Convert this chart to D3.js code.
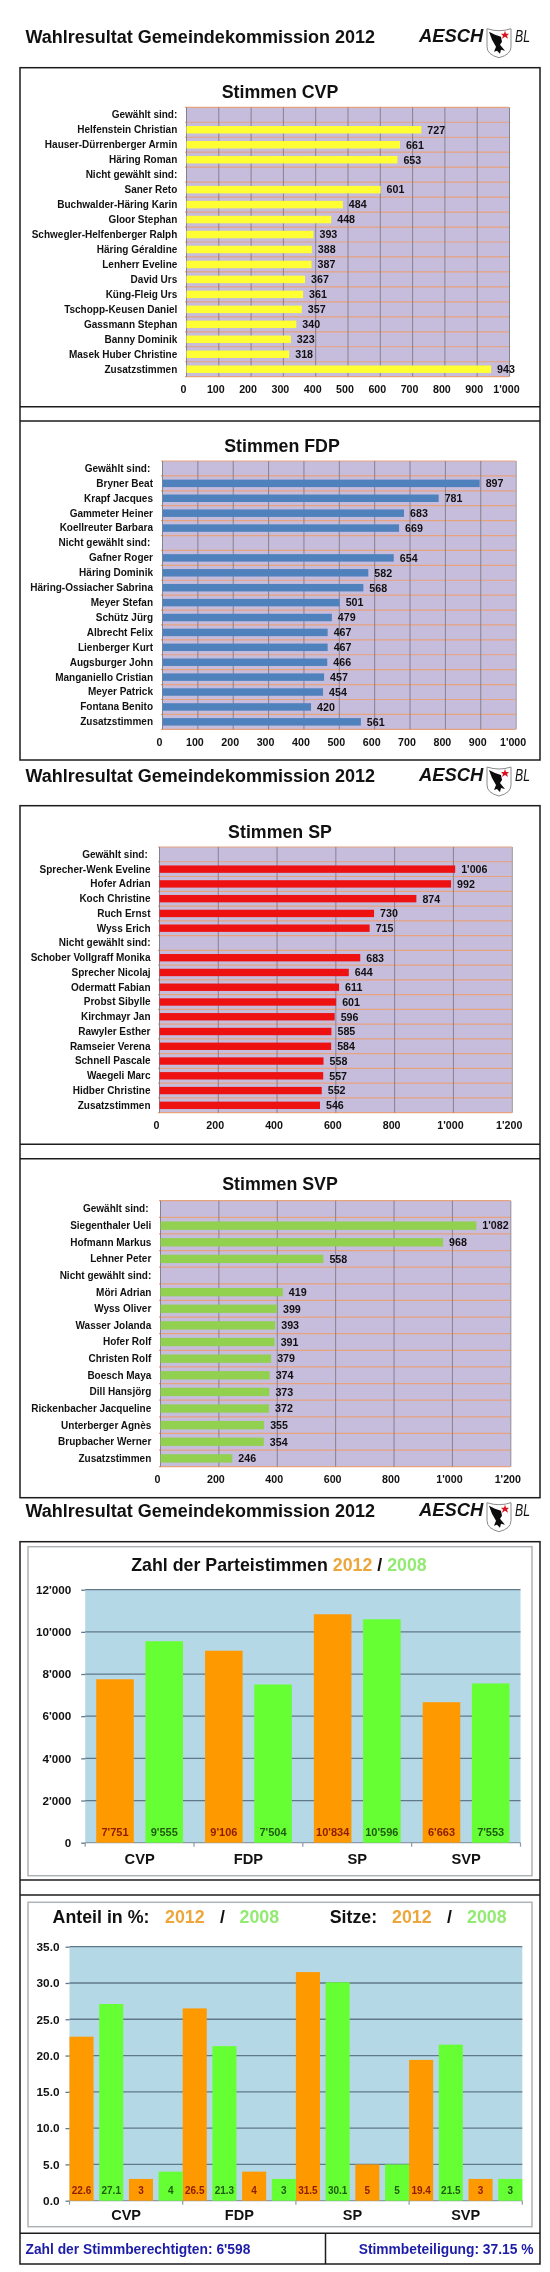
<!DOCTYPE html>
<html><head><meta charset="utf-8">
<script src="https://cdnjs.cloudflare.com/ajax/libs/d3/7.8.5/d3.min.js"></script>
<style>html,body{margin:0;padding:0;background:#fff}svg{display:block;filter:blur(.35px)}text{font-family:"Liberation Sans",Arial,sans-serif;font-weight:bold;fill:#111}</style>
</head><body><svg id="c" width="550" height="2272"></svg>
<script>
const cvpNames=["Gewählt sind:","Helfenstein Christian","Hauser-Dürrenberger Armin","Häring Roman","Nicht gewählt sind:","Saner Reto","Buchwalder-Häring Karin","Gloor Stephan","Schwegler-Helfenberger Ralph","Häring Géraldine","Lenherr Eveline","David Urs","Küng-Fleig Urs","Tschopp-Keusen Daniel","Gassmann Stephan","Banny Dominik","Masek Huber Christine","Zusatzstimmen"];
const cvpVotes=[null,727,661,653,null,601,484,448,393,388,387,367,361,357,340,323,318,943];
const fdpNames=["Gewählt sind:\u00a0","Bryner Beat","Krapf Jacques","Gammeter Heiner","Koellreuter Barbara","Nicht gewählt sind:\u00a0","Gafner Roger","Häring Dominik","Häring-Ossiacher Sabrina","Meyer Stefan","Schütz Jürg","Albrecht Felix","Lienberger Kurt","Augsburger John","Manganiello Cristian","Meyer Patrick","Fontana Benito","Zusatzstimmen"];
const fdpVotes=[null,897,781,683,669,null,654,582,568,501,479,467,467,466,457,454,420,561];
const spNames=["Gewählt sind:\u00a0","Sprecher-Wenk Eveline","Hofer Adrian","Koch Christine","Ruch Ernst","Wyss Erich","Nicht gewählt sind:","Schober Vollgraff Monika","Sprecher Nicolaj","Odermatt Fabian","Probst Sibylle","Kirchmayr Jan","Rawyler Esther","Ramseier Verena","Schnell Pascale","Waegeli Marc","Hidber Christine","Zusatzstimmen"];
const spVotes=[null,1006,992,874,730,715,null,683,644,611,601,596,585,584,558,557,552,546];
const svpNames=["Gewählt sind:\u00a0","Siegenthaler Ueli","Hofmann Markus","Lehner Peter","Nicht gewählt sind:","Möri Adrian","Wyss Oliver","Wasser Jolanda","Hofer Rolf","Christen Rolf","Boesch Maya","Dill Hansjörg","Rickenbacher Jacqueline","Unterberger Agnès","Brupbacher Werner","Zusatzstimmen"];
const svpVotes=[null,1082,968,558,null,419,399,393,391,379,374,373,372,355,354,246];
const ticks1000=[0,100,200,300,400,500,600,700,800,900,1000];
const ticks1200=[0,200,400,600,800,1000,1200];
const parties=["CVP","FDP","SP","SVP"];
const votes2012=[7751,9106,10834,6663];
const votes2008=[9555,7504,10596,7553];
const voteTicks=[0,2000,4000,6000,8000,10000,12000];
const share2012=[22.6,26.5,31.5,19.4];
const share2008=[27.1,21.3,30.1,21.5];
const seats2012=[3,4,5,3];
const seats2008=[4,3,5,3];
const shareTicks=[0,5,10,15,20,25,30,35];
const headerText="Wahlresultat Gemeindekommission 2012";
const eligibleText="Zahl der Stimmberechtigten: 6'598";
const turnoutText="Stimmbeteiligung: 37.15 %";

const svg=d3.select("#c");
const loc=d3.formatLocale({decimal:".",thousands:"'",grouping:[3],currency:["",""]});
const fmt=loc.format(","), fmt1=d3.format(".1f");
const ORANGE="#ff9900",GREEN="#66ff33",TORANGE="#eda63c",TGREEN="#93ea72";

function line(x1,y1,x2,y2,c,w){svg.append("line").attr("x1",x1).attr("y1",y1).attr("x2",x2).attr("y2",y2).attr("stroke",c).attr("stroke-width",w);}
function frame(top,bottom,cuts){
  svg.append("rect").attr("x",20).attr("y",top).attr("width",520).attr("height",bottom-top).attr("fill","none").attr("stroke","#1c1c1c").attr("stroke-width",1.5);
  cuts.forEach(y=>line(20,y,540,y,"#1c1c1c",1.5));
}
function header(cy){
  const g=svg.append("g").attr("transform",`translate(0,${cy})`);
  g.append("text").attr("x",25.5).attr("y",6.5).attr("font-size",18).text(headerText);
  g.append("text").attr("x",419).attr("y",5.5).attr("font-size",18.4).attr("font-style","italic").attr("font-weight","900").text("AESCH");
  g.append("path").attr("d","M487,-8 Q499,-4 511,-8 L511,10 Q511,18 499,21 Q487,18 487,10 Z").attr("fill","#fff").attr("stroke","#8a8a8a").attr("stroke-width",1);
  g.append("path").attr("d","M489,-5 L495,-2 L501,0 L502,5 L500,8 L505,14 L501,13 L500,17 L497,14 L494,15 L496,10 L492,3 Z").attr("fill","#0c0c0c");
  g.append("path").attr("d","M505,-6 L506,-3 L509,-3 L507,-1 L508,2 L505,0 L502,2 L503,-1 L501,-3 L504,-3 Z").attr("fill","#d8121e");
  g.append("text").attr("x",515).attr("y",5.5).attr("font-size",17).attr("font-style","italic").style("font-weight","normal").attr("textLength",15).attr("lengthAdjust","spacingAndGlyphs").text("BL");
}
function hbar(o){
  const g=svg.append("g");
  const x=d3.scaleLinear().domain(o.domain).range([o.left,o.right]);
  const y=d3.scaleBand().domain(o.names.map((_,i)=>i)).range([o.top,o.bottom]).paddingInner(0.5).paddingOuter(0.25);
  svg.append("text").attr("x",o.titleX).attr("y",o.titleY).attr("text-anchor","middle").attr("font-size",17.8).text(o.title);
  g.append("rect").attr("x",o.left).attr("y",o.top).attr("width",o.right-o.left).attr("height",o.bottom-o.top).attr("fill","#c6bcdc");
  const step=y.step();
  g.selectAll(".sep").data(d3.range(o.names.length+1)).join("line")
    .attr("x1",o.left-1).attr("x2",o.right)
    .attr("y1",i=>o.top+i*step).attr("y2",i=>o.top+i*step)
    .attr("stroke","#e8a27c").attr("stroke-width",1.2);
  const ax=g.append("g").attr("transform",`translate(0,${o.bottom})`)
    .call(d3.axisBottom(x).tickValues(o.ticks).tickFormat(fmt).tickSize(-(o.bottom-o.top)).tickPadding(6));
  ax.select(".domain").remove();
  ax.selectAll("line").attr("stroke","#85828f").attr("stroke-width",1);
  ax.selectAll("text").attr("font-size",10.7).attr("dx",-3).attr("y",9);
  const data=o.votes.map((v,i)=>({v,i})).filter(d=>d.v!==null);
  g.selectAll(".bar").data(data).join("rect").attr("x",o.left+.5).attr("y",d=>y(d.i)).attr("width",d=>x(d.v)-o.left).attr("height",y.bandwidth()).attr("fill",o.color);
  g.selectAll(".val").data(data).join("text").attr("x",d=>x(d.v)+6.5).attr("y",d=>y(d.i)+y.bandwidth()/2).attr("dy","0.36em").attr("font-size",10.7).text(d=>fmt(d.v));
  g.selectAll(".nm").data(o.names).join("text").attr("x",o.labelX).attr("y",(_,i)=>y(i)+y.bandwidth()/2).attr("dy","0.34em").attr("text-anchor","end").attr("font-size",10).style("white-space","pre").text(d=>d);
}
function box(t,b){svg.append("rect").attr("x",28).attr("y",t).attr("width",504).attr("height",b-t).attr("fill","#fff").attr("stroke","#aeb4b6").attr("stroke-width",1.5);}
function vaxes(g,x0,y,o){
  const domainRange=y.range();
  g.append("rect").attr("x",o.left).attr("y",domainRange[1]).attr("width",o.right-o.left).attr("height",domainRange[0]-domainRange[1]).attr("fill","#b4d8e5");
  const ay=g.append("g").attr("transform",`translate(${o.left},0)`)
    .call(d3.axisLeft(y).tickValues(o.ticks).tickFormat(o.fmt).tickSize(4).tickPadding(o.pad));
  ay.select(".domain").remove();
  ay.selectAll("line").attr("stroke","#60788a").attr("stroke-width",1.3);
  ay.selectAll("text").attr("font-size",o.tick);
  g.selectAll(".grid").data(o.ticks).join("line").attr("x1",o.left).attr("x2",o.right).attr("y1",d=>y(d)).attr("y2",d=>y(d)).attr("stroke",d=>d===0?"#8a9aa6":"#60788a").attr("stroke-width",1.3);
  const ax=g.append("g").attr("transform",`translate(0,${domainRange[0]})`)
    .call(d3.axisBottom(x0).tickSize(0).tickPadding(o.catPad));
  ax.select(".domain").remove();
  ax.selectAll("text").attr("font-size",o.catSize);
  g.selectAll(".tk").data(d3.range(parties.length+1)).join("line").attr("x1",i=>o.left+i*x0.step()).attr("x2",i=>o.left+i*x0.step()).attr("y1",domainRange[0]).attr("y2",domainRange[0]+4).attr("stroke","#8a9aa6").attr("stroke-width",1.2);
}

header(36.7);header(775);header(1510.7);
frame(67.7,760,[406.7,421]);
frame(805.7,1497.7,[1144.3,1158.7]);
frame(1541.7,2264,[1880,1895,2233.3]);
line(325.5,2233.3,325.5,2264,"#1c1c1c",1.5);

hbar({title:"Stimmen CVP",titleX:280,titleY:98.3,names:cvpNames,votes:cvpVotes,color:"#ffff33",left:186,right:509,top:107.3,bottom:376.7,labelX:177.3,domain:[0,1000],ticks:ticks1000});
hbar({title:"Stimmen FDP",titleX:282,titleY:451.5,names:fdpNames,votes:fdpVotes,color:"#4f81bd",left:162,right:515.6,top:461,bottom:729.3,labelX:153,domain:[0,1000],ticks:ticks1000});
hbar({title:"Stimmen SP",titleX:280,titleY:838,names:spNames,votes:spVotes,color:"#ee1111",left:159,right:511.7,top:847,bottom:1112.7,labelX:150.5,domain:[0,1200],ticks:ticks1200});
hbar({title:"Stimmen SVP",titleX:280,titleY:1190.3,names:svpNames,votes:svpVotes,color:"#92d050",left:160,right:510.3,top:1200.7,bottom:1466.7,labelX:151.3,domain:[0,1200],ticks:ticks1200});

box(1546.7,1875.7);
{
  const t=svg.append("text").attr("x",279).attr("y",1571.3).attr("text-anchor","middle").attr("font-size",17.8);
  t.append("tspan").text("Zahl der Parteistimmen ");
  t.append("tspan").style("fill",TORANGE).text("2012");
  t.append("tspan").text(" / ");
  t.append("tspan").style("fill",TGREEN).text("2008");
  const o={left:85.2,right:520.5,ticks:voteTicks,fmt:fmt,pad:10,tick:11.7,catSize:14.7,catPad:11};
  const g=svg.append("g");
  const x0=d3.scaleBand().domain(parties).range([o.left,o.right]);
  const x1=d3.scaleBand().domain(["a","b"]).range([0,x0.bandwidth()]).paddingInner(0.236).paddingOuter(0.224);
  const y=d3.scaleLinear().domain([0,12000]).range([1842.7,1589.7]);
  vaxes(g,x0,y,o);
  [["a",votes2012,ORANGE,"#8a1c00"],["b",votes2008,GREEN,"#1f5a10"]].forEach(([k,vals,col,tc])=>{
    g.selectAll(".b"+k).data(vals).join("rect").attr("x",(_,i)=>x0(parties[i])+x1(k)).attr("y",d=>y(d)).attr("width",x1.bandwidth()).attr("height",d=>y(0)-y(d)).attr("fill",col);
    g.selectAll(".t"+k).data(vals).join("text").attr("x",(_,i)=>x0(parties[i])+x1(k)+x1.bandwidth()/2).attr("y",1835.8).attr("text-anchor","middle").attr("font-size",11).style("fill",tc).text(d=>fmt(d));
  });
}
box(1902.3,2226.7);
{
  const tt=[["Anteil in %:",52.6,null],["2012",165,TORANGE],["/",220,null],["2008",239.6,TGREEN],["Sitze:",329.7,null],["2012",392,TORANGE],["/",447,null],["2008",467,TGREEN]];
  svg.selectAll(".tt").data(tt).join("text").attr("x",d=>d[1]).attr("y",1923.3).attr("font-size",17.8).style("fill",d=>d[2]||"#111").text(d=>d[0]);
  const o={left:69.5,right:522.3,ticks:shareTicks,fmt:fmt1,pad:6,tick:11.8,catSize:14.5,catPad:9};
  const g=svg.append("g");
  const x0=d3.scaleBand().domain(parties).range([o.left,o.right]);
  const x1=d3.scaleBand().domain(["a","b","c","d"]).range([0,x0.bandwidth()]).paddingInner(0.19).paddingOuter(0);
  const y=d3.scaleLinear().domain([0,35]).range([2200.7,1946.7]);
  vaxes(g,x0,y,o);
  [["a",share2012,ORANGE,"#8a1c00",fmt1],["b",share2008,GREEN,"#1f5a10",fmt1],["c",seats2012,ORANGE,"#8a1c00",String],["d",seats2008,GREEN,"#1f5a10",String]].forEach(([k,vals,col,tc,f])=>{
    g.selectAll(".b"+k).data(vals).join("rect").attr("x",(_,i)=>x0(parties[i])+x1(k)).attr("y",d=>y(d)).attr("width",x1.bandwidth()).attr("height",d=>y(0)-y(d)).attr("fill",col);
    g.selectAll(".t"+k).data(vals).join("text").attr("x",(_,i)=>x0(parties[i])+x1(k)+x1.bandwidth()/2).attr("y",2194).attr("text-anchor","middle").attr("font-size",10).style("fill",tc).text(d=>f(d));
  });
}
svg.append("text").attr("x",25.5).attr("y",2253.6).attr("font-size",13.8).style("fill","#1c1ca8").text(eligibleText);
svg.append("text").attr("x",533.5).attr("y",2253.6).attr("text-anchor","end").attr("font-size",13.8).style("fill","#1c1ca8").text(turnoutText);
</script></body></html>
